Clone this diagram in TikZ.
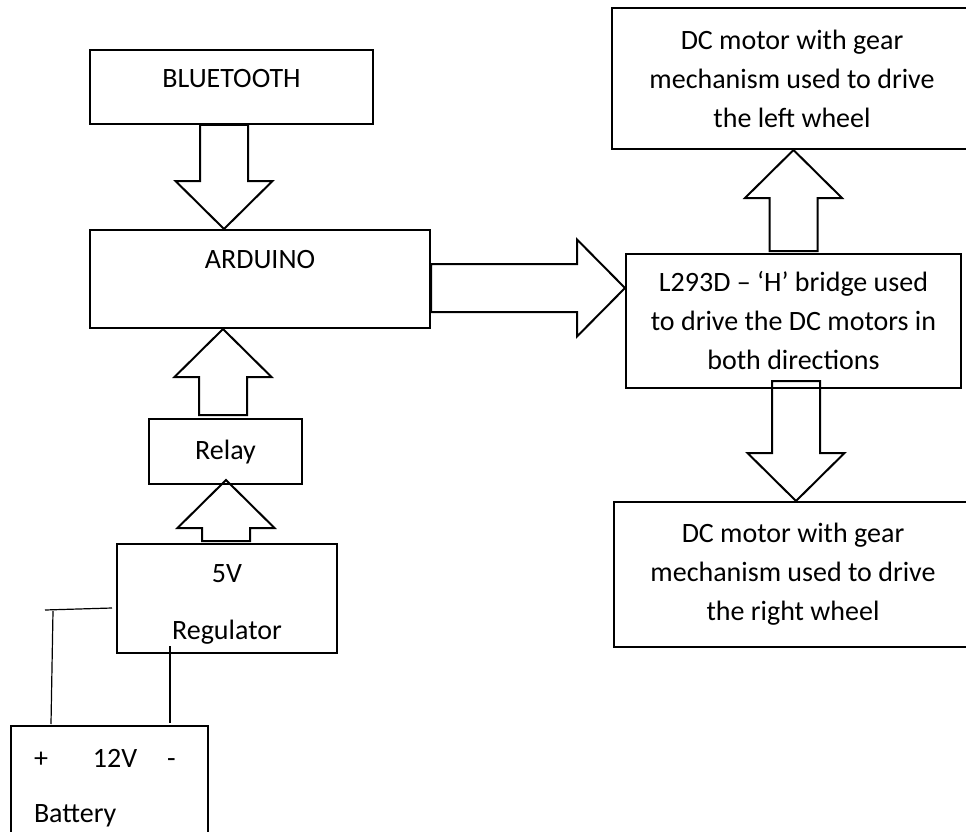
\documentclass[tikz,border=0pt]{standalone}
\usepackage{fontspec}
\setmainfont{Carlito}
\usepackage{tikz}
\usetikzlibrary{positioning,calc}

% hollow block arrow from tail #1 to tip #2
\newcommand{\fatarrow}[2]{%
  \coordinate (fah) at ($(#2)!48pt!(#1)$);
  \draw[hollow] ($(#1)!24pt!90:(#2)$) -- ($(fah)!24pt!90:(#2)$)
    -- ($(fah)!48.5pt!90:(#2)$) -- (#2) -- ($(fah)!48.5pt!-90:(#2)$)
    -- ($(fah)!24pt!-90:(#2)$) -- ($(#1)!24pt!-90:(#2)$) -- cycle;
}

\begin{document}
\begin{tikzpicture}[x=1pt,y=-1pt]
	\tikzset{
		blk/.style={
			draw,
			rectangle,
			line width=2pt,
			inner sep=0pt,
			font=\fontsize{28pt}{39pt}\selectfont
		},
		hollow/.style={
			line width=2pt,
			line join=miter
		},
		wire/.style={
			line width=1.2pt
		}
	}
	\useasboundingbox (0,0) rectangle (966,832);
	
	% ======= left column =======
	\node[blk, minimum width=283pt, minimum height=74pt, text height=38pt, text depth=36pt] (bt) at (231.5,87) {BLUETOOTH};
	\node[blk, minimum width=340pt, minimum height=98pt, text height=38pt, text depth=60pt] (ard) at (260,279) {ARDUINO};
	\node[blk, minimum width=153pt, minimum height=65pt, text height=40pt, text depth=25pt] (relay) at (225.5,451.5) {Relay};
	\node[blk, align=center, minimum width=220pt, minimum height=109pt] (reg) at (227,598.5) {\rule{0pt}{29pt}5V\\[18pt]Regulator};
	\node[blk, align=left, text width=151pt, inner xsep=23pt, minimum height=124pt] (bat) at (109.5,788) {+\hspace{45pt}12V\hspace{30pt}-\\[16pt]Battery};
	
	% ======= right column =======
	\node[blk, align=center, minimum width=360pt, minimum height=141pt] (lm) at (792,78.5) {DC motor with gear\\mechanism used to drive\\the left wheel};
	\node[blk, align=center, minimum width=335pt, minimum height=134pt] (hb) at (793.5,321) {L293D – ‘H’ bridge used\\to drive the DC motors in\\both directions};
	\node[blk, align=center, minimum width=358pt, minimum height=145pt] (rm) at (793,574.5) {DC motor with gear\\mechanism used to drive\\the right wheel};
	
	% ======= block arrows =======
	\coordinate (a1) at ([xshift=-7.5pt]bt.south);
	\fatarrow{a1}{a1 |- ard.north}
	\coordinate (a2) at ([xshift=-2.5pt,yshift=3pt]relay.north);
	\fatarrow{a2}{a2 |- ard.south}
	\coordinate (a3) at ([xshift=-1pt,yshift=2pt]reg.north);
	\coordinate (a3e) at ($(a3 |- relay.south)+(0pt,5pt)$);
	\fatarrow{a3}{a3e}
	\coordinate (a4) at ([yshift=-9pt]ard.east);
	\fatarrow{a4}{a4 -| hb.west}
	\coordinate (a5) at ([yshift=2pt]hb.north);
	\fatarrow{a5}{a5 |- lm.south}
	\coordinate (a6) at ([xshift=2.5pt,yshift=8pt]hb.south);
	\fatarrow{a6}{a6 |- rm.north}
	
	% ======= battery wires =======
	\coordinate (pl) at (45,610);
	\coordinate (pr) at (112,608);
	\coordinate (pt) at (53,611);
	\coordinate (pb) at (51,724);
	\coordinate (mt) at (170,646);
	\coordinate (mb) at (170,723);
	\draw[wire] (pl) -- (pr);
	\draw[wire] (pt) -- (pb);
	\draw[wire] (mt) -- (mb);
\end{tikzpicture}
\end{document}
